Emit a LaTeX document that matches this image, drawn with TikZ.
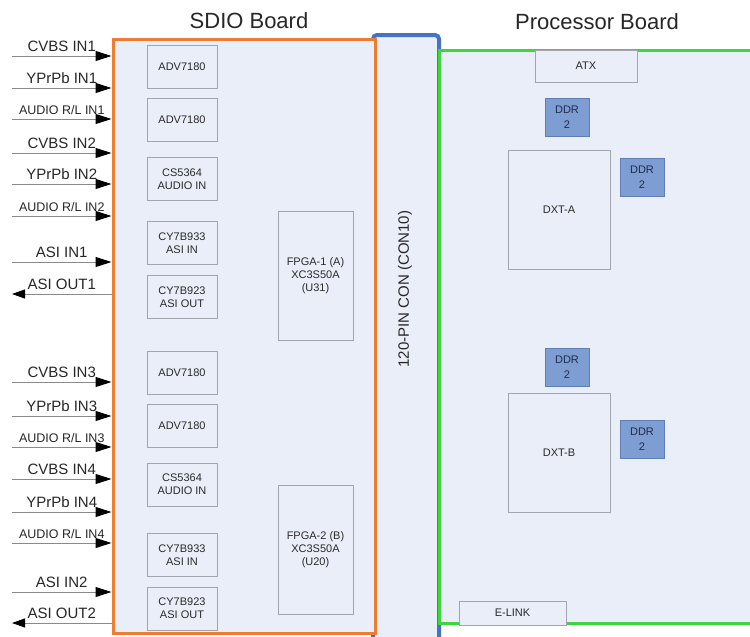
\documentclass[tikz,border=0pt]{standalone}
\usepackage{fontspec}
\setmainfont{Liberation Sans}
\usetikzlibrary{arrows.meta}
\definecolor{boardfill}{HTML}{E9EEF8}
\definecolor{sdioorange}{HTML}{ED7D31}
\definecolor{procgreen}{HTML}{3AD83A}
\definecolor{conblue}{HTML}{4472C4}
\definecolor{chipgray}{HTML}{A2A4AE}
\definecolor{chiptext}{HTML}{2A2A2A}
\definecolor{ddrfill}{HTML}{7E9DD2}
\definecolor{ddrline}{HTML}{5F7EB4}
\definecolor{ddrtext}{HTML}{1E2C50}
\definecolor{siggray}{HTML}{8A8A8A}
\tikzset{
  board/.style={draw, fill=boardfill, line width=3pt, inner sep=0pt},
  chip/.style={draw=chipgray, fill=boardfill, line width=1pt, inner sep=0pt, text=chiptext,
    font=\fontsize{11}{13}\selectfont, align=center},
  sdiochip/.style={chip, minimum width=70pt, minimum height=43pt},
  fpga/.style={chip, minimum width=75pt, minimum height=129pt},
  dxt/.style={chip, minimum width=102pt, minimum height=119pt},
  ddr/.style={chip, draw=ddrline, fill=ddrfill, text=ddrtext, font=\fontsize{11}{15}\selectfont,
    minimum width=44pt, minimum height=38pt},
  title/.style={font=\fontsize{22}{22}\selectfont, text=black!85},
  siglabel/.style={font=\fontsize{15}{15}\selectfont, text=black!85, inner sep=1pt, above=3pt},
  audiolabel/.style={font=\fontsize{12.5}{12.5}\selectfont},
  sigline/.style={draw=siggray, line width=1pt}
}
\def\sigin[#1](#2:#3)#4{\coordinate (#2) at (12,#3);
  \draw[sigline, -{Triangle[length=16pt,width=10pt,color=black,fill=black]}] (#2) -- (#2 -| sdio.west)
    node[midway, siglabel, #1] {#4};}
\def\sigout[#1](#2:#3)#4{\coordinate (#2) at (12,#3);
  \draw[sigline, {Triangle[length=13pt,width=9pt,color=black,fill=black]}-] (#2) -- (#2 -| sdio.west)
    node[midway, siglabel, #1] {#4};}

\begin{document}
\begin{tikzpicture}[x=1pt, y=-1pt]
  %%%%% START %%%%%
  \useasboundingbox (0,0) rectangle (750,637);
  \clip (0,0) rectangle (750,637);

  % connector between the boards
  \node[draw=conblue, fill=boardfill, line width=4pt, rounded corners=4pt,
    minimum width=66pt, minimum height=665pt, inner sep=0pt] (con) at (406,367.5) {};
  \node[rotate=90, font=\fontsize{15}{15}\selectfont, text=black!85] (conlabel) at (405,289) {120-PIN CON (CON10)};

  % boards
  \node[board, draw=sdioorange, minimum width=262pt, minimum height=594pt] (sdio) at (244,336) {};
  \node[board, draw=procgreen, minimum width=326pt, minimum height=573pt] (proc) at (602,336.5) {};
  \node[title] (sdiotitle) at (249,21) {SDIO Board};
  \node[title] (proctitle) at (597,22) {Processor Board};

  % SDIO chips
  \node[sdiochip] (advA) at (182,66.5) {ADV7180};
  \node[sdiochip] (advB) at (182,120) {ADV7180};
  \node[sdiochip] (audA) at (182,179) {CS5364\\AUDIO IN};
  \node[sdiochip] (asiinA) at (182,243) {CY7B933\\ASI IN};
  \node[sdiochip] (asioutA) at (182,297) {CY7B923\\ASI OUT};
  \node[sdiochip] (advC) at (182,372.5) {ADV7180};
  \node[sdiochip] (advD) at (182,426) {ADV7180};
  \node[sdiochip] (audB) at (182,484.5) {CS5364\\AUDIO IN};
  \node[sdiochip] (asiinB) at (182,555) {CY7B933\\ASI IN};
  \node[sdiochip] (asioutB) at (182,608.5) {CY7B923\\ASI OUT};
  \node[fpga] (fpgaA) at (315.5,275.5) {FPGA-1 (A)\\XC3S50A\\(U31)};
  \node[fpga] (fpgaB) at (315.5,549.5) {FPGA-2 (B)\\XC3S50A\\(U20)};

  % processor chips
  \node[chip, minimum width=102pt, minimum height=32pt] (atx) at (586,66) {ATX};
  \node[ddr] (ddrA) at (567,117.5) {DDR\\2};
  \node[dxt] (dxtA) at (559,210) {DXT-A};
  \node[ddr] (ddrB) at (642,177) {DDR\\2};
  \node[ddr] (ddrC) at (567,367.5) {DDR\\2};
  \node[dxt] (dxtB) at (559,453) {DXT-B};
  \node[ddr] (ddrD) at (642,439.5) {DDR\\2};
  \node[chip, minimum width=107pt, minimum height=24pt] (elink) at (512.5,613) {E-LINK};

  % signals
  \sigin[](cvbsA:56){CVBS IN1}
  \sigin[](ypbA:88){YPrPb IN1}
  \sigin[audiolabel](audioA:119){AUDIO R/L IN1}
  \sigin[](cvbsB:153){CVBS IN2}
  \sigin[](ypbB:184){YPrPb IN2}
  \sigin[audiolabel](audioB:216){AUDIO R/L IN2}
  \sigin[](asiinpA:262){ASI IN1}
  \sigout[](asioutpA:294){ASI OUT1}
  \sigin[](cvbsC:382){CVBS IN3}
  \sigin[](ypbC:416){YPrPb IN3}
  \sigin[audiolabel](audioC:447){AUDIO R/L IN3}
  \sigin[](cvbsD:479){CVBS IN4}
  \sigin[](ypbD:512){YPrPb IN4}
  \sigin[audiolabel](audioD:543){AUDIO R/L IN4}
  \sigin[](asiinpB:592){ASI IN2}
  \sigout[](asioutpB:623){ASI OUT2}
  %%%%% END %%%%%
\end{tikzpicture}
\end{document}
